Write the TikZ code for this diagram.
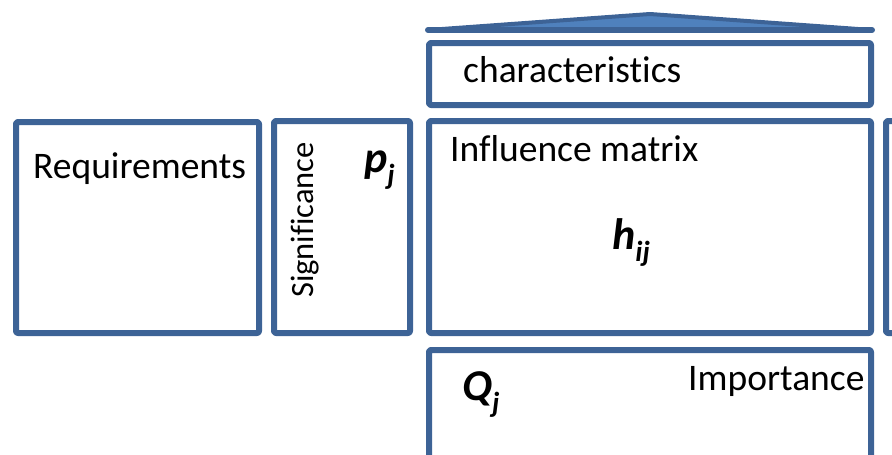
\documentclass[tikz,border=0pt]{standalone}
\usepackage{fontspec}
\setmainfont[Ligatures={NoCommon}]{Carlito}
\definecolor{qdblue}{RGB}{61,99,150}
\definecolor{qlblue}{RGB}{79,129,189}
\newcommand{\qsub}[1]{\raisebox{-12pt}{\fontsize{29}{29}\selectfont\bfseries\itshape #1}}
\begin{document}
\begin{tikzpicture}[x=1pt,y=-1pt,
  box/.style={draw=qdblue, line width=6pt, line join=round, rounded corners=2pt, inner sep=0pt},
  lbl/.style={inner sep=0pt, anchor=base west, font=\fontsize{37.5}{40}\selectfont},
  sym/.style={inner sep=0pt, anchor=base west, font=\fontsize{44}{48}\selectfont\bfseries\itshape}]
\useasboundingbox (0,0) rectangle (892,455);
\clip (0,0) rectangle (892,455);
% roof
\coordinate (rl) at (428,30);
\coordinate (rp) at (650,14);
\coordinate (rr) at (872,30);
\draw[draw=qdblue, fill=qlblue, line width=4pt, line join=round, line cap=round] (rl) -- (rp) -- (rr) -- cycle;
\draw[draw=qdblue, line width=6pt, line cap=round] (rl) -- (rr);
% boxes
\node[box, minimum width=243pt, minimum height=211pt] (req) at (137.5,227.5) {};
\node[box, minimum width=136pt, minimum height=212pt] (sig) at (342,227) {};
\node[box, minimum width=442pt, minimum height=212pt] (inf) at (650,227) {};
\node[box, minimum width=104pt, minimum height=212pt] (rgt) at (938,227) {};
\node[box, minimum width=442pt, minimum height=62pt] (chr) at (650,74) {};
\node[box, minimum width=442pt, minimum height=150pt] (imp) at (650,425) {};
% texts
\node[lbl] (treq) at (33,178) {Requirements};
\node[lbl] (tchr) at (463,82) {characteristics};
\node[lbl] (tinf) at (450,161) {Influence matrix};
\node[lbl] (timp) at (688,390) {Importance};
\node[inner sep=0pt, anchor=base west, rotate=90, font=\fontsize{32.5}{34}\selectfont] (tsig) at (313,298) {Significance};
\node[sym] (tp) at (364,172) {p\qsub{j}};
\node[sym] (th) at (612,249) {h\qsub{ij}};
\node[sym] (tq) at (462,400) {Q\qsub{j}};
\end{tikzpicture}
\end{document}
